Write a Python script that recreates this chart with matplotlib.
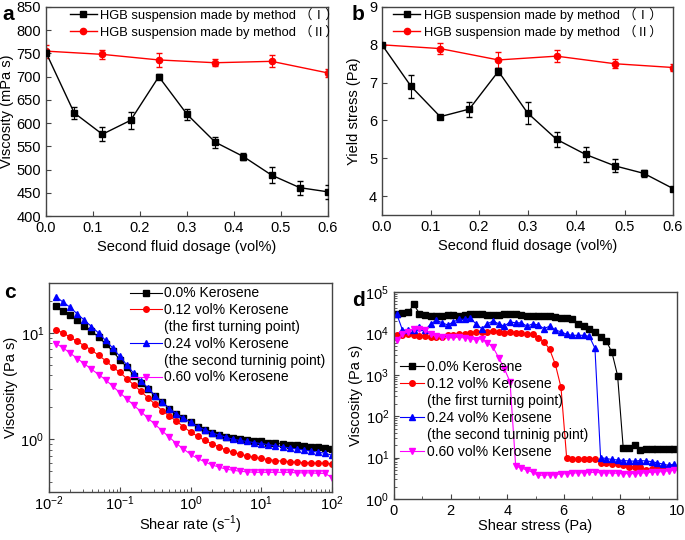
import matplotlib
matplotlib.use('Agg')
import matplotlib.pyplot as plt
from matplotlib.lines import Line2D
from matplotlib.ticker import LogLocator, NullFormatter, MultipleLocator

plt.rcParams['font.family'] = ['Liberation Sans', 'Noto Sans CJK SC']
plt.rcParams['mathtext.fontset'] = 'custom'
plt.rcParams['mathtext.rm'] = 'Liberation Sans'
plt.rcParams['axes.unicode_minus'] = False

# ---- panel a / b data ----
dosage_1 = [0.0, 0.06, 0.12, 0.18, 0.24, 0.30, 0.36, 0.42, 0.48, 0.54, 0.60]
dosage_2 = [0.0, 0.12, 0.24, 0.36, 0.48, 0.60]

visc_1 = [752, 622, 576, 606, 700, 619, 559, 528, 488, 461, 452]
visc_1_err = [5, 13, 15, 18, 5, 12, 12, 7, 18, 15, 15]
visc_2 = [755, 748, 736, 730, 733, 708]
visc_2_err = [14, 10, 15, 8, 13, 8]

ys_1 = [8.0, 6.9, 6.1, 6.3, 7.3, 6.2, 5.5, 5.1, 4.8, 4.6, 4.2]
ys_1_err = [0.05, 0.3, 0.05, 0.2, 0.1, 0.3, 0.2, 0.2, 0.17, 0.1, 0.05]
ys_2 = [8.0, 7.9, 7.6, 7.7, 7.5, 7.4]
ys_2_err = [0.05, 0.15, 0.2, 0.15, 0.12, 0.08]

method_labels = ['HGB suspension made by method （Ⅰ）', 'HGB suspension made by method （Ⅱ）']

# ---- panel c data (shear rate sweep) ----
shear_rate = [0.0126, 0.0158, 0.0200, 0.0251, 0.0316, 0.0398, 0.0501, 0.0631, 0.0794, 0.100,
              0.126, 0.158, 0.200, 0.251, 0.316, 0.398, 0.501, 0.631, 0.794, 1.00,
              1.26, 1.58, 2.00, 2.51, 3.16, 3.98, 5.01, 6.31, 7.94, 10.0,
              12.6, 15.8, 20.0, 25.1, 31.6, 39.8, 50.1, 63.1, 79.4, 100.0]
c_k000 = [17.8, 16.2, 14.8, 13.2, 11.7, 10.5, 9.12, 7.94, 6.76, 5.62,
          4.79, 3.98, 3.39, 2.95, 2.57, 2.24, 1.95, 1.74, 1.58, 1.45,
          1.32, 1.23, 1.16, 1.11, 1.06, 1.02, 1.00, 0.977, 0.966, 0.955,
          0.933, 0.923, 0.912, 0.891, 0.881, 0.871, 0.851, 0.841, 0.832, 0.813]
c_k012 = [10.7, 10.0, 9.12, 8.32, 7.59, 6.92, 6.17, 5.50, 4.79, 4.27,
          3.72, 3.24, 2.82, 2.45, 2.14, 1.86, 1.66, 1.48, 1.32, 1.17,
          1.07, 0.977, 0.912, 0.851, 0.794, 0.759, 0.724, 0.700, 0.676, 0.661,
          0.646, 0.631, 0.624, 0.617, 0.610, 0.603, 0.603, 0.596, 0.596, 0.589]
c_k024 = [21.9, 19.5, 17.4, 15.1, 13.2, 11.5, 10.0, 8.51, 7.24, 6.03,
          5.01, 4.17, 3.55, 3.02, 2.57, 2.24, 1.95, 1.74, 1.58, 1.45,
          1.32, 1.23, 1.15, 1.10, 1.05, 1.00, 0.977, 0.955, 0.933, 0.912,
          0.891, 0.871, 0.851, 0.832, 0.813, 0.794, 0.776, 0.759, 0.741, 0.708]
c_k060 = [7.94, 7.24, 6.46, 5.75, 5.13, 4.57, 4.07, 3.63, 3.16, 2.75,
          2.40, 2.09, 1.82, 1.58, 1.38, 1.20, 1.05, 0.912, 0.813, 0.724,
          0.661, 0.617, 0.575, 0.550, 0.525, 0.513, 0.501, 0.495, 0.490, 0.490,
          0.490, 0.490, 0.490, 0.490, 0.484, 0.484, 0.484, 0.479, 0.479, 0.437]

# ---- panel d data (stress sweep) ----
shear_stress = [0.1, 0.3, 0.5, 0.7, 0.9, 1.1, 1.3, 1.5, 1.7, 1.9,
                2.1, 2.3, 2.5, 2.7, 2.9, 3.1, 3.3, 3.5, 3.7, 3.9,
                4.1, 4.3, 4.5, 4.7, 4.9, 5.1, 5.3, 5.5, 5.7, 5.9,
                6.1, 6.3, 6.5, 6.7, 6.9, 7.1, 7.3, 7.5, 7.7, 7.9,
                8.1, 8.3, 8.5, 8.7, 8.9, 9.1, 9.3, 9.5, 9.7, 9.9]
d_k000 = [3.0e4, 3.1e4, 3.2e4, 5.0e4, 3.0e4, 2.8e4, 2.7e4, 2.7e4, 2.7e4, 2.8e4,
          2.8e4, 2.7e4, 2.8e4, 2.9e4, 2.9e4, 2.9e4, 2.8e4, 2.8e4, 2.8e4, 2.9e4,
          3.0e4, 2.9e4, 2.8e4, 2.7e4, 2.7e4, 2.7e4, 2.6e4, 2.6e4, 2.5e4, 2.4e4,
          2.3e4, 2.2e4, 1.7e4, 1.5e4, 1.3e4, 1.1e4, 8.3e3, 6.6e3, 3.5e3, 960,
          17, 17, 20, 15, 16, 16, 16, 16, 16, 16]
d_k012 = [9.0e3, 9.0e3, 9.5e3, 9.2e3, 8.8e3, 8.5e3, 8.3e3, 8.0e3, 8.2e3, 9.0e3,
          9.2e3, 9.5e3, 9.8e3, 1.05e4, 1.08e4, 1.1e4, 1.1e4, 1.15e4, 1.1e4, 1.05e4,
          1.1e4, 1.05e4, 1.0e4, 9.8e3, 9.6e3, 7.7e3, 6.3e3, 4.1e3, 1.8e3, 500,
          10, 9.0, 9.0, 9.2, 9.5, 9.3, 7.5, 7.3, 7.2, 7.0,
          6.5, 6.0, 6.0, 5.8, 5.0, 5.2, 5.6, 5.8, 6.0, 6.0]
d_k024 = [2.9e4, 1.2e4, 1.2e4, 1.2e4, 1.4e4, 1.2e4, 1.7e4, 2.1e4, 1.8e4, 1.6e4,
          1.9e4, 2.2e4, 2.2e4, 2.3e4, 1.7e4, 1.3e4, 1.7e4, 2.0e4, 1.7e4, 1.5e4,
          1.9e4, 1.8e4, 1.8e4, 1.5e4, 1.7e4, 1.6e4, 1.3e4, 1.5e4, 1.2e4, 1.1e4,
          9.5e3, 9.0e3, 9.0e3, 9.0e3, 8.5e3, 4.4e3, 10, 9.5, 9.0, 8.8,
          8.5, 8.3, 8.2, 8.5, 8.3, 8.0, 7.5, 7.0, 6.5, 7.0]
d_k060 = [7.0e3, 9.5e3, 1.1e4, 1.3e4, 1.3e4, 1.2e4, 9.5e3, 8.5e3, 8.0e3, 8.0e3,
          8.2e3, 8.0e3, 7.8e3, 7.5e3, 7.0e3, 7.5e3, 6.0e3, 4.6e3, 2.6e3, 1.4e3,
          680, 6.2, 5.6, 5.0, 4.4, 3.7, 3.8, 3.8, 3.9, 4.0,
          4.1, 4.2, 4.3, 4.3, 4.4, 4.4, 4.3, 4.3, 4.2, 4.2,
          4.1, 4.1, 4.1, 4.2, 4.3, 4.4, 4.5, 4.6, 4.8, 5.0]

kerosene_labels = ['0.0% Kerosene', '0.12 vol% Kerosene', '(the first turning point)',
                   '0.24 vol% Kerosene', '(the second turninig point)', '0.60 vol% Kerosene']

W, H = 685, 540
fig = plt.figure(figsize=(W / 100, H / 100), dpi=100)


def px_axes(l, t, r, b):
    return fig.add_axes([l / W, 1 - b / H, (r - l) / W, (b - t) / H])


def style(ax):
    for s in ax.spines.values():
        s.set_color('#444444')
        s.set_linewidth(1.0)
    ax.tick_params(direction='in', labelsize=10.5, length=3.5, width=0.8, color='#444444')
    ax.tick_params(which='minor', direction='in', length=2, width=0.6, color='#444444')


ax_a = px_axes(46, 7, 328, 216)
ax_b = px_axes(382, 7, 673, 215)
ax_c = px_axes(49, 283, 332, 492)
ax_d = px_axes(394, 292, 677, 499)

method_handles = [Line2D([], [], color='black', marker='s', ms=5, lw=1),
                  Line2D([], [], color='red', marker='o', ms=4.5, lw=1)]

# ---- a ----
ax_a.errorbar(dosage_1, visc_1, yerr=visc_1_err, color='black', marker='s', ms=5, lw=1,
              capsize=2, elinewidth=0.8, zorder=3)
ax_a.errorbar(dosage_2, visc_2, yerr=visc_2_err, color='red', marker='o', ms=4.5, lw=1,
              capsize=2, elinewidth=0.8, zorder=2)
ax_a.set_xlim(0, 0.6)
ax_a.set_ylim(400, 850)
ax_a.yaxis.set_major_locator(MultipleLocator(50))
ax_a.xaxis.set_major_locator(MultipleLocator(0.1))
ax_a.xaxis.set_major_formatter(plt.FormatStrFormatter('%.1f'))
ax_a.set_xlabel('Second fluid dosage (vol%)', fontsize=10.5)
ax_a.set_ylabel('Viscosity (mPa s)', fontsize=10.5, labelpad=2)
ax_a.legend(method_handles, method_labels, loc='upper left', bbox_to_anchor=(0.075, 1.01),
            frameon=False, fontsize=9.3, handlelength=2.1, handletextpad=0.25,
            labelspacing=0.24, borderaxespad=0, borderpad=0.2)
style(ax_a)

# ---- b ----
ax_b.errorbar(dosage_1, ys_1, yerr=ys_1_err, color='black', marker='s', ms=5, lw=1,
              capsize=2, elinewidth=0.8, zorder=3)
ax_b.errorbar(dosage_2, ys_2, yerr=ys_2_err, color='red', marker='o', ms=4.5, lw=1,
              capsize=2, elinewidth=0.8, zorder=2)
ax_b.set_xlim(0, 0.6)
ax_b.set_ylim(3.5, 9)
ax_b.yaxis.set_major_locator(MultipleLocator(1))
ax_b.xaxis.set_major_locator(MultipleLocator(0.1))
ax_b.xaxis.set_major_formatter(plt.FormatStrFormatter('%.1f'))
ax_b.set_xlabel('Second fluid dosage (vol%)', fontsize=10.5)
ax_b.set_ylabel('Yield stress (Pa)', fontsize=10.5, labelpad=6)
ax_b.legend(method_handles, method_labels, loc='upper left', bbox_to_anchor=(0.03, 1.01),
            frameon=False, fontsize=9.3, handlelength=2.1, handletextpad=0.25,
            labelspacing=0.24, borderaxespad=0, borderpad=0.2)
style(ax_b)

# ---- c ----
ax_c.plot(shear_rate, c_k000, color='black', marker='s', ms=4, lw=0.8)
ax_c.plot(shear_rate, c_k012, color='red', marker='o', ms=4, lw=0.8)
ax_c.plot(shear_rate, c_k024, color='blue', marker='^', ms=4.5, lw=0.8)
ax_c.plot(shear_rate, c_k060, color='magenta', marker='v', ms=4.5, lw=0.8)
ax_c.set_xscale('log')
ax_c.set_yscale('log')
ax_c.set_xlim(0.01, 100)
ax_c.set_ylim(0.32, 29.5)
ax_c.xaxis.set_major_locator(LogLocator(base=10, numticks=10))
ax_c.xaxis.set_minor_locator(LogLocator(base=10, subs=range(2, 10), numticks=20))
ax_c.yaxis.set_minor_locator(LogLocator(base=10, subs=range(2, 10), numticks=20))
ax_c.yaxis.set_minor_formatter(NullFormatter())
ax_c.set_xlabel('Shear rate (s$^{-1}$)', fontsize=10.5, labelpad=0)
ax_c.set_ylabel('Viscosity (Pa s)', fontsize=10.5, labelpad=2)
style(ax_c)
ax_c.tick_params(axis='x', pad=2)

# ---- d ----
ax_d.plot(shear_stress, d_k000, color='black', marker='s', ms=4, lw=0.8)
ax_d.plot(shear_stress, d_k012, color='red', marker='o', ms=4, lw=0.8)
ax_d.plot(shear_stress, d_k024, color='blue', marker='^', ms=4.5, lw=0.8)
ax_d.plot(shear_stress, d_k060, color='magenta', marker='v', ms=4.5, lw=0.8)
ax_d.set_yscale('log')
ax_d.set_xlim(0, 10)
ax_d.set_ylim(1, 1e5)
ax_d.xaxis.set_major_locator(MultipleLocator(2))
ax_d.xaxis.set_minor_locator(MultipleLocator(1))
ax_d.yaxis.set_major_locator(LogLocator(base=10, numticks=10))
ax_d.yaxis.set_minor_locator(LogLocator(base=10, subs=range(2, 10), numticks=20))
ax_d.yaxis.set_minor_formatter(NullFormatter())
ax_d.set_xlabel('Shear stress (Pa)', fontsize=10.5, labelpad=1)
ax_d.set_ylabel('Viscosity (Pa s)', fontsize=10.5, labelpad=2)
style(ax_d)

# legends for c and d: the second text line gets an empty handle
blank = Line2D([], [], linestyle='none')
kero_handles = [Line2D([], [], color='black', marker='s', ms=4, lw=0.8),
                Line2D([], [], color='red', marker='o', ms=4, lw=0.8),
                blank,
                Line2D([], [], color='blue', marker='^', ms=4.5, lw=0.8),
                blank,
                Line2D([], [], color='magenta', marker='v', ms=4.5, lw=0.8)]

ax_c.legend(kero_handles, kerosene_labels, loc='upper left', bbox_to_anchor=(0.275, 1.0),
            frameon=False, fontsize=10, handlelength=2.25, handletextpad=0.2,
            labelspacing=0.2, borderaxespad=0, borderpad=0.25)
ax_d.legend(kero_handles, kerosene_labels, loc='upper left', bbox_to_anchor=(0.01, 0.69),
            frameon=False, fontsize=10, handlelength=1.7, handletextpad=0.2,
            labelspacing=0.22, borderaxespad=0, borderpad=0.25)

# panel letters
for txt, x, y in [('a', 8, 15), ('b', 358, 15), ('c', 10, 292), ('d', 358, 300)]:
    fig.text(x / W, 1 - y / H, txt, fontsize=15, fontweight='bold', va='center', ha='center')

fig.savefig('out.png', dpi=100)
